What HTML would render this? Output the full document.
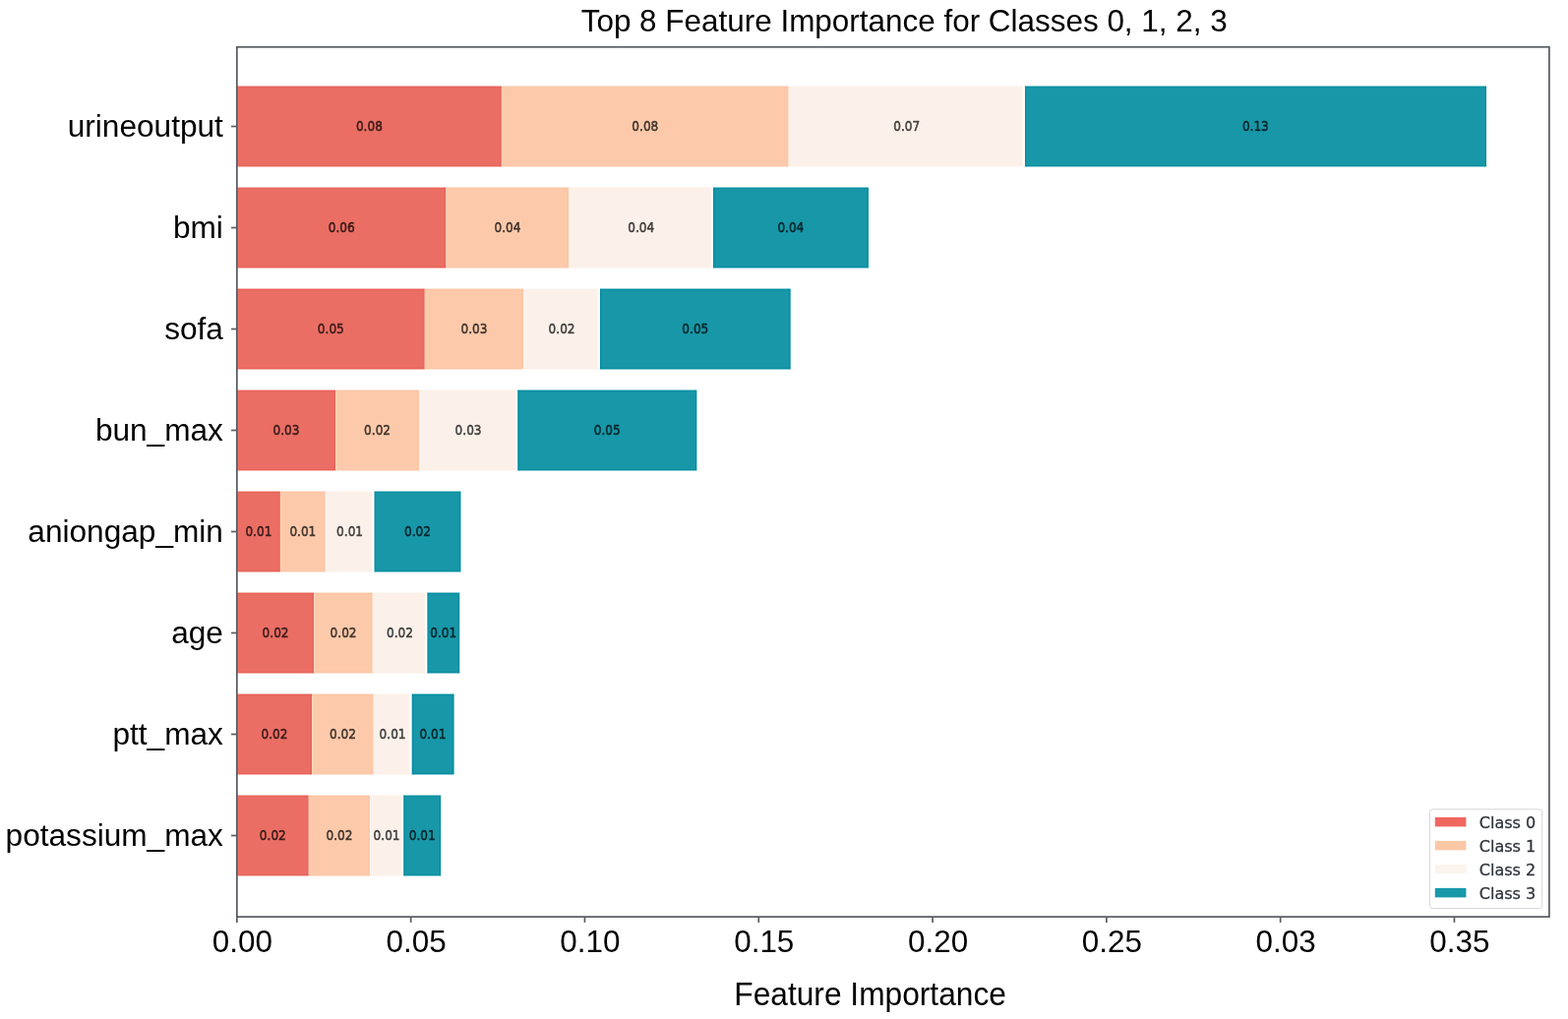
<!DOCTYPE html>
<html><head><meta charset="utf-8"><title>Top 8 Feature Importance for Classes 0, 1, 2, 3</title>
<style>
html,body{margin:0;padding:0;background:#fff;width:1594px;height:1036px;overflow:hidden}
svg{display:block}
text{font-family:"Liberation Sans",Arial,sans-serif;fill:#000}
.bl text{font-family:"DejaVu Sans",sans-serif;font-size:13.3px;text-anchor:middle;fill:#000}
.yl text{font-size:31.0px;text-anchor:end}
.xt text{font-size:32px;text-anchor:middle}
.ttl{font-size:30.5px;text-anchor:middle}
.xl{font-size:32.8px;text-anchor:middle}
.lg text{font-family:"DejaVu Sans",sans-serif;fill:#30343a;stroke:#30343a;stroke-width:0.3px}
</style></head>
<body><svg width="1594" height="1036" viewBox="0 0 1594 1036">
<defs><filter id="usm" x="-2%" y="-2%" width="104%" height="104%" color-interpolation-filters="sRGB"><feGaussianBlur in="SourceGraphic" stdDeviation="1.0" result="b"/><feComposite in="SourceGraphic" in2="b" operator="arithmetic" k1="0" k2="1.35" k3="-0.35" k4="0"/></filter><filter id="lb" x="-20%" y="-50%" width="140%" height="200%"><feGaussianBlur stdDeviation="0.45"/></filter></defs>
<rect x="0" y="0" width="1594" height="1036" fill="#fff"/>
<g filter="url(#usm)"><rect x="241.85" y="48.8" width="1332.05" height="882.3" fill="#fff"/>
<rect x="240.85" y="87.5" width="269.05" height="82" fill="#ea6e64"/>
<rect x="509.9" y="87.5" width="291.8" height="82" fill="#fccaab"/>
<rect x="801.7" y="87.5" width="240" height="82" fill="#fcf1ea"/>
<rect x="1041.7" y="87.5" width="469.3" height="82" fill="#1897a8"/>
<rect x="1039.5" y="87.5" width="2.2" height="82" fill="#fcfaf7"/>
<rect x="240.85" y="190.5" width="212.65" height="82" fill="#ea6e64"/>
<rect x="453.5" y="190.5" width="125" height="82" fill="#fccaab"/>
<rect x="578.5" y="190.5" width="146.3" height="82" fill="#fcf1ea"/>
<rect x="724.8" y="190.5" width="158.1" height="82" fill="#1897a8"/>
<rect x="722.6" y="190.5" width="2.2" height="82" fill="#fcfaf7"/>
<rect x="240.85" y="293.5" width="190.95" height="82" fill="#ea6e64"/>
<rect x="431.8" y="293.5" width="100.4" height="82" fill="#fccaab"/>
<rect x="532.2" y="293.5" width="77.7" height="82" fill="#fcf1ea"/>
<rect x="609.9" y="293.5" width="193.8" height="82" fill="#1897a8"/>
<rect x="607.7" y="293.5" width="2.2" height="82" fill="#fcfaf7"/>
<rect x="240.85" y="396.5" width="100.25" height="82" fill="#ea6e64"/>
<rect x="341.1" y="396.5" width="84.9" height="82" fill="#fccaab"/>
<rect x="426" y="396.5" width="100.1" height="82" fill="#fcf1ea"/>
<rect x="526.1" y="396.5" width="182.3" height="82" fill="#1897a8"/>
<rect x="523.9" y="396.5" width="2.2" height="82" fill="#fcfaf7"/>
<rect x="240.85" y="499.5" width="44.05" height="82" fill="#ea6e64"/>
<rect x="284.9" y="499.5" width="45.9" height="82" fill="#fccaab"/>
<rect x="330.8" y="499.5" width="49.5" height="82" fill="#fcf1ea"/>
<rect x="380.3" y="499.5" width="88.2" height="82" fill="#1897a8"/>
<rect x="378.1" y="499.5" width="2.2" height="82" fill="#fcfaf7"/>
<rect x="240.85" y="602.5" width="78.45" height="82" fill="#ea6e64"/>
<rect x="319.3" y="602.5" width="59.5" height="82" fill="#fccaab"/>
<rect x="378.8" y="602.5" width="55.4" height="82" fill="#fcf1ea"/>
<rect x="434.2" y="602.5" width="33.1" height="82" fill="#1897a8"/>
<rect x="432" y="602.5" width="2.2" height="82" fill="#fcfaf7"/>
<rect x="240.85" y="705.5" width="76.35" height="82" fill="#ea6e64"/>
<rect x="317.2" y="705.5" width="62.5" height="82" fill="#fccaab"/>
<rect x="379.7" y="705.5" width="38.7" height="82" fill="#fcf1ea"/>
<rect x="418.4" y="705.5" width="43.2" height="82" fill="#1897a8"/>
<rect x="416.2" y="705.5" width="2.2" height="82" fill="#fcfaf7"/>
<rect x="240.85" y="808.5" width="72.95" height="82" fill="#ea6e64"/>
<rect x="313.8" y="808.5" width="62.2" height="82" fill="#fccaab"/>
<rect x="376" y="808.5" width="34.1" height="82" fill="#fcf1ea"/>
<rect x="410.1" y="808.5" width="38.1" height="82" fill="#1897a8"/>
<rect x="407.9" y="808.5" width="2.2" height="82" fill="#fcfaf7"/>
</g>
<g class="bl" fill="#000" fill-opacity="0.66" stroke="#000" stroke-opacity="0.66" stroke-width="0.6" filter="url(#lb)"><text transform="translate(375.38,132.75) scale(0.91,1)">0.08</text><text transform="translate(655.8,132.75) scale(0.91,1)">0.08</text><text transform="translate(921.7,132.75) scale(0.91,1)">0.07</text><text transform="translate(1276.35,132.75) scale(0.91,1)">0.13</text><text transform="translate(347.18,235.75) scale(0.91,1)">0.06</text><text transform="translate(516,235.75) scale(0.91,1)">0.04</text><text transform="translate(651.65,235.75) scale(0.91,1)">0.04</text><text transform="translate(803.85,235.75) scale(0.91,1)">0.04</text><text transform="translate(336.32,338.75) scale(0.91,1)">0.05</text><text transform="translate(482,338.75) scale(0.91,1)">0.03</text><text transform="translate(571.05,338.75) scale(0.91,1)">0.02</text><text transform="translate(706.8,338.75) scale(0.91,1)">0.05</text><text transform="translate(290.98,441.75) scale(0.91,1)">0.03</text><text transform="translate(383.55,441.75) scale(0.91,1)">0.02</text><text transform="translate(476.05,441.75) scale(0.91,1)">0.03</text><text transform="translate(617.25,441.75) scale(0.91,1)">0.05</text><text transform="translate(262.88,544.75) scale(0.91,1)">0.01</text><text transform="translate(307.85,544.75) scale(0.91,1)">0.01</text><text transform="translate(355.55,544.75) scale(0.91,1)">0.01</text><text transform="translate(424.4,544.75) scale(0.91,1)">0.02</text><text transform="translate(280.07,647.75) scale(0.91,1)">0.02</text><text transform="translate(349.05,647.75) scale(0.91,1)">0.02</text><text transform="translate(406.5,647.75) scale(0.91,1)">0.02</text><text transform="translate(450.75,647.75) scale(0.91,1)">0.01</text><text transform="translate(279.02,750.75) scale(0.91,1)">0.02</text><text transform="translate(348.45,750.75) scale(0.91,1)">0.02</text><text transform="translate(399.05,750.75) scale(0.91,1)">0.01</text><text transform="translate(440,750.75) scale(0.91,1)">0.01</text><text transform="translate(277.32,853.75) scale(0.91,1)">0.02</text><text transform="translate(344.9,853.75) scale(0.91,1)">0.02</text><text transform="translate(393.05,853.75) scale(0.91,1)">0.01</text><text transform="translate(429.15,853.75) scale(0.91,1)">0.01</text></g>
<rect x="240.85" y="47.8" width="1334.05" height="884.3" fill="none" stroke="#585b61" stroke-width="1.7"/>
<line x1="235.05" y1="128.5" x2="240.85" y2="128.5" stroke="#585b61" stroke-width="1.7"/>
<line x1="235.05" y1="231.5" x2="240.85" y2="231.5" stroke="#585b61" stroke-width="1.7"/>
<line x1="235.05" y1="334.5" x2="240.85" y2="334.5" stroke="#585b61" stroke-width="1.7"/>
<line x1="235.05" y1="437.5" x2="240.85" y2="437.5" stroke="#585b61" stroke-width="1.7"/>
<line x1="235.05" y1="540.5" x2="240.85" y2="540.5" stroke="#585b61" stroke-width="1.7"/>
<line x1="235.05" y1="643.5" x2="240.85" y2="643.5" stroke="#585b61" stroke-width="1.7"/>
<line x1="235.05" y1="746.5" x2="240.85" y2="746.5" stroke="#585b61" stroke-width="1.7"/>
<line x1="235.05" y1="849.5" x2="240.85" y2="849.5" stroke="#585b61" stroke-width="1.7"/>
<g class="yl"><text transform="translate(226.9,139.1) scale(1.02,1)">urineoutput</text><text transform="translate(226.9,242.1) scale(1.02,1)">bmi</text><text transform="translate(226.9,345.1) scale(1.02,1)">sofa</text><text transform="translate(226.9,448.1) scale(1.02,1)">bun_max</text><text transform="translate(226.9,551.1) scale(1.02,1)">aniongap_min</text><text transform="translate(226.9,654.1) scale(1.02,1)">age</text><text transform="translate(226.9,757.1) scale(1.02,1)">ptt_max</text><text transform="translate(226.9,860.1) scale(1.02,1)">potassium_max</text></g>
<line x1="240.85" y1="932.1" x2="240.85" y2="937.9" stroke="#585b61" stroke-width="1.7"/>
<line x1="417.65" y1="932.1" x2="417.65" y2="937.9" stroke="#585b61" stroke-width="1.7"/>
<line x1="594.45" y1="932.1" x2="594.45" y2="937.9" stroke="#585b61" stroke-width="1.7"/>
<line x1="771.25" y1="932.1" x2="771.25" y2="937.9" stroke="#585b61" stroke-width="1.7"/>
<line x1="948.05" y1="932.1" x2="948.05" y2="937.9" stroke="#585b61" stroke-width="1.7"/>
<line x1="1124.85" y1="932.1" x2="1124.85" y2="937.9" stroke="#585b61" stroke-width="1.7"/>
<line x1="1301.65" y1="932.1" x2="1301.65" y2="937.9" stroke="#585b61" stroke-width="1.7"/>
<line x1="1478.45" y1="932.1" x2="1478.45" y2="937.9" stroke="#585b61" stroke-width="1.7"/>
<g class="xt"><text transform="translate(246.35,967.7) scale(0.983,1)">0.00</text><text transform="translate(423.15,967.7) scale(0.983,1)">0.05</text><text transform="translate(599.95,967.7) scale(0.983,1)">0.10</text><text transform="translate(776.75,967.7) scale(0.983,1)">0.15</text><text transform="translate(953.55,967.7) scale(0.983,1)">0.20</text><text transform="translate(1130.35,967.7) scale(0.983,1)">0.25</text><text transform="translate(1307.15,967.7) scale(0.983,1)">0.03</text><text transform="translate(1483.95,967.7) scale(0.983,1)">0.35</text></g>
<text class="ttl" transform="translate(919.2,31.6) scale(1.031,1)">Top 8 Feature Importance for Classes 0, 1, 2, 3</text>
<text class="xl" transform="translate(884.6,1021.5) scale(0.967,1)">Feature Importance</text>
<rect x="1453.5" y="822.8" width="114.2" height="100.8" rx="3" ry="3" fill="#fff" fill-opacity="0.85" stroke="#d6d6d6" stroke-width="1"/>
<rect x="1458.8" y="830.9" width="31.6" height="9.5" fill="#f0675f"/>
<rect x="1458.8" y="854.9" width="31.6" height="9.5" fill="#fbc8a6"/>
<rect x="1458.8" y="878.9" width="31.6" height="9.5" fill="#fbf4ee"/>
<rect x="1458.8" y="902.9" width="31.6" height="9.5" fill="#1899aa"/>
<g class="lg" style="font-size:16.0px"><text x="1503.8" y="841.6">Class 0</text><text x="1503.8" y="865.6">Class 1</text><text x="1503.8" y="889.6">Class 2</text><text x="1503.8" y="913.6">Class 3</text></g>
</svg></body></html>
